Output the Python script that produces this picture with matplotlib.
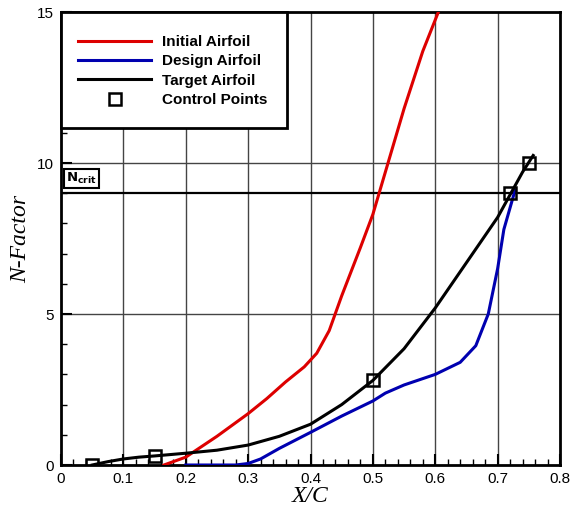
import matplotlib
matplotlib.use("Agg")
import matplotlib.pyplot as plt
from matplotlib.ticker import MultipleLocator
from matplotlib.patches import Rectangle

initial_x = [0.165, 0.20, 0.25, 0.30, 0.33, 0.36, 0.39, 0.41, 0.43, 0.45, 0.48, 0.50, 0.52, 0.55, 0.58, 0.605]
initial_y = [0.0, 0.26, 0.95, 1.7, 2.2, 2.75, 3.25, 3.7, 4.45, 5.6, 7.2, 8.3, 9.7, 11.8, 13.7, 15.0]

design_x = [0.20, 0.28, 0.30, 0.32, 0.35, 0.40, 0.45, 0.50, 0.52, 0.55, 0.60, 0.64, 0.665, 0.685, 0.70, 0.71, 0.728]
design_y = [0.0, 0.0, 0.05, 0.2, 0.55, 1.08, 1.62, 2.12, 2.38, 2.65, 3.0, 3.4, 3.95, 5.0, 6.5, 7.8, 9.1]

target_x = [0.05, 0.075, 0.10, 0.125, 0.15, 0.20, 0.25, 0.30, 0.35, 0.40, 0.45, 0.50, 0.55, 0.60, 0.65, 0.70, 0.72, 0.74, 0.757]
target_y = [0.0, 0.11, 0.2, 0.26, 0.3, 0.39, 0.49, 0.66, 0.95, 1.35, 2.0, 2.8, 3.85, 5.2, 6.7, 8.2, 8.95, 9.7, 10.25]

ctrl_x = [0.05, 0.15, 0.50, 0.72, 0.75]
ctrl_y = [0.0, 0.3, 2.8, 9.0, 10.0]

n_crit = 9.0

fig = plt.figure(figsize=(5.7, 5.11), dpi=100)
ax = fig.add_axes([61/570, 1-465/511, (560-61)/570, (465-12)/511])

ax.set_xlim(0, 0.8)
ax.set_ylim(0, 15)

for xv in [0.1, 0.2, 0.3, 0.4, 0.5, 0.6, 0.7]:
    ax.axvline(xv, color="#444444", lw=1.0, zorder=1)
for yv in [5, 10]:
    ax.axhline(yv, color="#444444", lw=1.0, zorder=1)
ax.axhline(n_crit, color="black", lw=1.6, zorder=2)

l1, = ax.plot(initial_x, initial_y, color="#dd0000", lw=2.2, label="Initial Airfoil", zorder=3)
l2, = ax.plot(design_x, design_y, color="#0000b0", lw=2.2, label="Design Airfoil", zorder=3)
l3, = ax.plot(target_x, target_y, color="black", lw=2.2, label="Target Airfoil", zorder=4)
l4, = ax.plot(ctrl_x, ctrl_y, ls="none", marker="s", ms=8.5, mfc="none", mec="black", mew=1.8,
              label="Control Points", zorder=5)

ax.xaxis.set_major_locator(MultipleLocator(0.1))
ax.xaxis.set_minor_locator(MultipleLocator(0.02))
ax.yaxis.set_major_locator(MultipleLocator(5))
ax.yaxis.set_minor_locator(MultipleLocator(1))
ax.tick_params(which="both", direction="in", top=False, right=False)
ax.tick_params(which="major", length=8, width=1.5, labelsize=11, pad=5)
ax.tick_params(which="minor", length=4, width=1.0)
ax.xaxis.set_major_formatter(plt.FuncFormatter(lambda v, p: ("%g" % round(v, 2))))
for lab in ax.get_xticklabels() + ax.get_yticklabels():
    lab.set_family("Liberation Sans")
for s in ax.spines.values():
    s.set_linewidth(2.0)

ax.set_xlabel("X/C", fontsize=17, family="Liberation Serif", style="italic", labelpad=0)
ax.set_ylabel("N-Factor", fontsize=17, family="Liberation Serif", style="italic", labelpad=4)

# legend box
box = Rectangle((61/570, 1-128/511), (287-61)/570, (128-12)/511, transform=fig.transFigure,
                facecolor="white", edgecolor="black", lw=2.0, zorder=9, clip_on=False)
ax.add_patch(box)

leg = ax.legend(handles=[l1, l2, l3, l4], loc="upper left",
                bbox_to_anchor=(78/570, 1-35/511), bbox_transform=fig.transFigure,
                frameon=False, borderaxespad=0, borderpad=0,
                handlelength=4.8, handletextpad=0.72, labelspacing=0.35,
                prop={"family": "Liberation Sans", "weight": "bold", "size": 11})
leg.set_zorder(10)

ax.text(0.008, 9.5, r"$\mathbf{N}_{\mathbf{crit}}$", fontsize=9.5, color="black",
        ha="left", va="center", zorder=11,
        bbox=dict(boxstyle="square,pad=0.15", fc="white", ec="black", lw=1.5))

fig.savefig("out.png", dpi=100)
